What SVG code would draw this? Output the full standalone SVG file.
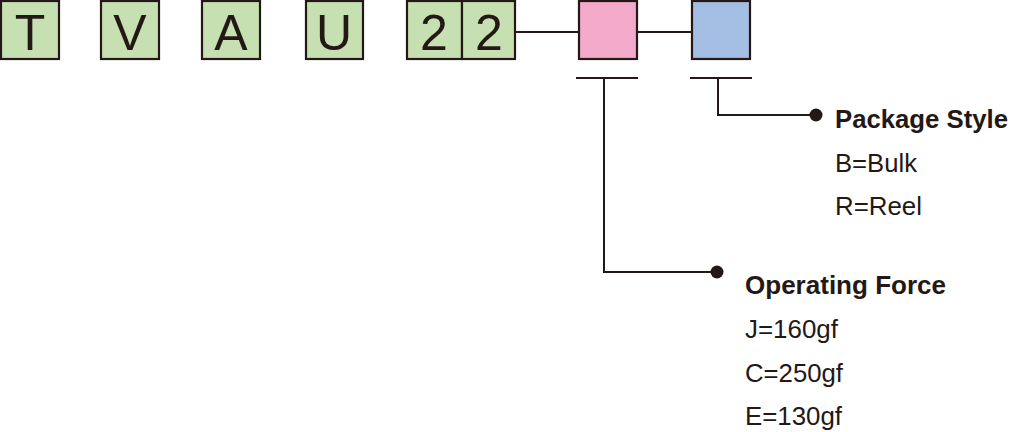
<svg xmlns="http://www.w3.org/2000/svg" width="1010" height="432" viewBox="0 0 1010 432">
<style>
.box{stroke:#231815;stroke-width:2.2}
.g{fill:#c6e0b1}
.lt{font-family:"Liberation Sans",Arial,sans-serif;font-size:50px;fill:#231815;text-anchor:middle}
.ln{stroke:#231815;stroke-width:2;fill:none}
.h{font-family:"Liberation Sans",Arial,sans-serif;font-size:25.5px;font-weight:bold;fill:#231815}
.t{font-family:"Liberation Sans",Arial,sans-serif;font-size:25.5px;fill:#231815}
</style>
<rect width="1010" height="432" fill="#fff"/>
<g id="connectors">
<line class="ln" x1="515" y1="32" x2="579" y2="32"/>
<line class="ln" x1="637" y1="32" x2="692" y2="32"/>
<line class="ln" x1="576" y1="78" x2="638" y2="78"/>
<polyline class="ln" points="604,78 604,272 717,272"/>
<circle cx="717" cy="272" r="6.5" fill="#231815"/>
<line class="ln" x1="690" y1="78" x2="752" y2="78"/>
<polyline class="ln" points="718,78 718,115 816,115"/>
<circle cx="816" cy="115" r="6.5" fill="#231815"/>
</g>
<g id="nT"><rect class="box g" x="1" y="1" width="58" height="58"/><text class="lt" x="30" y="50">T</text></g>
<g id="nV"><rect class="box g" x="101" y="1" width="58" height="58"/><text class="lt" x="130" y="50">V</text></g>
<g id="nA"><rect class="box g" x="202" y="1" width="58" height="58"/><text class="lt" x="231" y="50">A</text></g>
<g id="nU"><rect class="box g" x="306" y="1" width="57" height="58"/><text class="lt" x="334" y="50">U</text></g>
<g id="n2a"><rect class="box g" x="407" y="1" width="55" height="58"/><text class="lt" x="434" y="50">2</text></g>
<g id="n2b"><rect class="box g" x="462" y="1" width="53" height="58"/><text class="lt" x="489" y="50">2</text></g>
<g id="nForce"><rect class="box" fill="#f3a9c9" x="579" y="1" width="58" height="58"/></g>
<g id="nPkg"><rect class="box" fill="#a3bde3" x="692" y="1" width="58" height="58"/></g>
<g id="pkgText">
<text class="h" x="835" y="128" textLength="173" lengthAdjust="spacingAndGlyphs">Package Style</text>
<text class="t" x="835" y="172" textLength="82" lengthAdjust="spacingAndGlyphs">B=Bulk</text>
<text class="t" x="835" y="215" textLength="87" lengthAdjust="spacingAndGlyphs">R=Reel</text>
</g>
<g id="forceText">
<text class="h" x="745" y="294" textLength="201" lengthAdjust="spacingAndGlyphs">Operating Force</text>
<text class="t" x="745" y="338" textLength="93" lengthAdjust="spacingAndGlyphs">J=160gf</text>
<text class="t" x="745" y="382" textLength="98" lengthAdjust="spacingAndGlyphs">C=250gf</text>
<text class="t" x="745" y="425" textLength="97" lengthAdjust="spacingAndGlyphs">E=130gf</text>
</g>
</svg>
